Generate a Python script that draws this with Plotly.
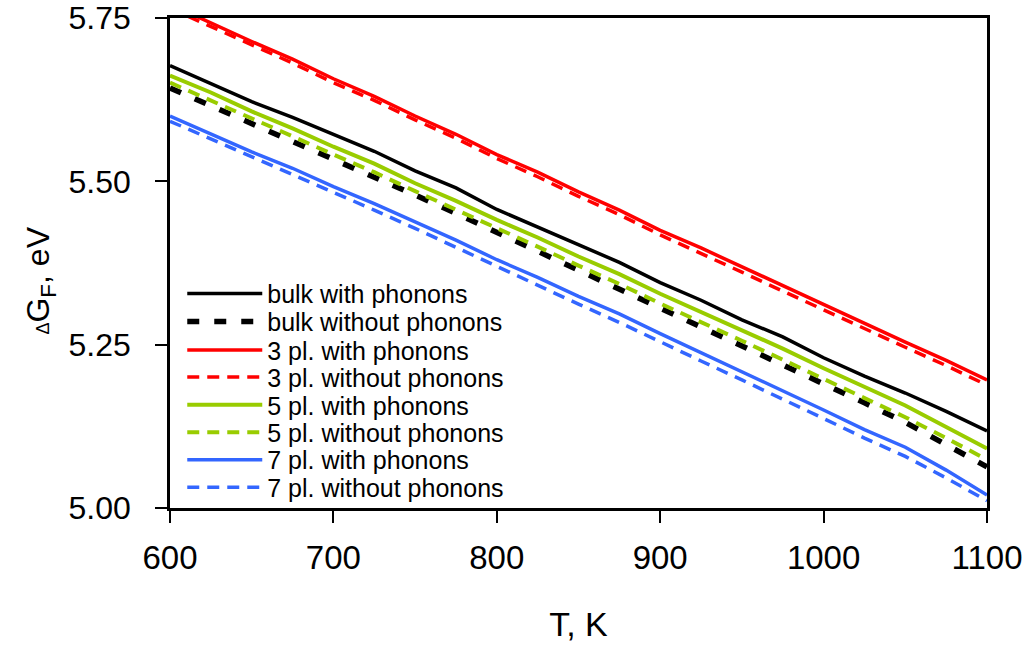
import plotly.graph_objects as go

T = [600, 625, 650, 675, 700, 725, 750, 775, 800, 825, 850, 875, 900, 925, 950, 975, 1000, 1025, 1050, 1075, 1100]

bulk_with = [5.677, 5.650, 5.622, 5.598, 5.572, 5.546, 5.516, 5.490, 5.457, 5.430, 5.402, 5.376, 5.345, 5.318, 5.288, 5.262, 5.230, 5.202, 5.176, 5.148, 5.118]
bulk_without = [5.643, 5.616, 5.589, 5.562, 5.535, 5.507, 5.479, 5.451, 5.422, 5.394, 5.365, 5.337, 5.307, 5.279, 5.249, 5.220, 5.190, 5.161, 5.131, 5.097, 5.063]
pl3_with = [5.771, 5.742, 5.714, 5.687, 5.657, 5.630, 5.600, 5.572, 5.541, 5.514, 5.484, 5.456, 5.425, 5.398, 5.369, 5.340, 5.311, 5.282, 5.254, 5.226, 5.196]
pl3_without = [5.765, 5.737, 5.708, 5.681, 5.651, 5.624, 5.594, 5.566, 5.535, 5.507, 5.477, 5.449, 5.418, 5.390, 5.361, 5.332, 5.303, 5.274, 5.246, 5.218, 5.188]
pl5_with = [5.662, 5.636, 5.607, 5.581, 5.553, 5.527, 5.497, 5.470, 5.441, 5.414, 5.385, 5.358, 5.328, 5.300, 5.272, 5.244, 5.214, 5.185, 5.157, 5.124, 5.091]
pl5_without = [5.651, 5.624, 5.596, 5.569, 5.541, 5.514, 5.485, 5.457, 5.428, 5.400, 5.371, 5.343, 5.313, 5.285, 5.256, 5.227, 5.198, 5.168, 5.139, 5.107, 5.074]
pl7_with = [5.600, 5.573, 5.545, 5.520, 5.492, 5.466, 5.438, 5.410, 5.380, 5.353, 5.324, 5.297, 5.267, 5.238, 5.209, 5.180, 5.150, 5.120, 5.093, 5.058, 5.020]
pl7_without = [5.592, 5.565, 5.537, 5.511, 5.483, 5.456, 5.428, 5.399, 5.369, 5.341, 5.312, 5.284, 5.254, 5.225, 5.196, 5.167, 5.137, 5.107, 5.079, 5.046, 5.011]

names = ["bulk with phonons", "bulk without phonons", "3 pl. with phonons", "3 pl. without phonons",
         "5 pl. with phonons", "5 pl. without phonons", "7 pl. with phonons", "7 pl. without phonons"]
series = [bulk_with, bulk_without, pl3_with, pl3_without, pl5_with, pl5_without, pl7_with, pl7_without]
colors = ["#000000", "#000000", "#FF0000", "#FF0000", "#99CC00", "#99CC00", "#3366FF", "#3366FF"]
dashes = ["solid", "12px,15px", "solid", "12px,8px", "solid", "12px,8px", "solid", "12px,8px"]
widths = [3.5, 5.5, 3.5, 3.5, 4, 4, 3.5, 3.5]

# one legend box per entry so the rows can be spaced like the original
legend_rows = [0.437, 0.380, 0.322, 0.267, 0.210, 0.154, 0.098, 0.042]

fig = go.Figure()
legend_layout = {}
for i, (n, s, c, d, w, ly) in enumerate(zip(names, series, colors, dashes, widths, legend_rows)):
    key = "legend" if i == 0 else f"legend{i + 1}"
    fig.add_trace(go.Scatter(x=T, y=s, mode="lines", name=n, legend=key,
                             line=dict(color=c, dash=d, width=w)))
    legend_layout[key] = dict(x=0.015, y=ly, xanchor="left", yanchor="middle",
                              font=dict(size=25, color="black"),
                              bgcolor="rgba(0,0,0,0)", itemwidth=75,
                              borderwidth=0)

fig.update_layout(
    width=1028, height=645,
    margin=dict(l=170, r=41, t=18, b=137),
    paper_bgcolor="white", plot_bgcolor="white",
    font=dict(family="Liberation Sans, Arial, sans-serif", color="black"),
    showlegend=True,
    **legend_layout,
)
fig.update_xaxes(range=[600, 1100], tickvals=[600, 700, 800, 900, 1000, 1100],
                 automargin=False,
                 ticks="outside", ticklen=12, tickwidth=1.5, tickcolor="black",
                 ticklabelstandoff=7,
                 showline=True, linecolor="black", linewidth=2.5, mirror=True,
                 showgrid=False, zeroline=False,
                 tickfont=dict(size=33),
                 title=dict(text="T, K", font=dict(size=34), standoff=37))
fig.update_yaxes(range=[5.0, 5.75], tickvals=[5.0, 5.25, 5.5, 5.75],
                 ticktext=["5.00", "5.25", "5.50", "5.75"],
                 automargin=False,
                 ticks="outside", ticklen=12, tickwidth=1.5, tickcolor="black",
                 ticklabelstandoff=18,
                 showline=True, linecolor="black", linewidth=2.5, mirror=True,
                 showgrid=False, zeroline=False,
                 tickfont=dict(size=32),
                 title=dict(text="<span style='font-size:18px'>Δ</span>G<sub>F</sub>, eV&nbsp;&nbsp;&nbsp;&nbsp;",
                            font=dict(size=32), standoff=10))

fig.write_html("out.html")
